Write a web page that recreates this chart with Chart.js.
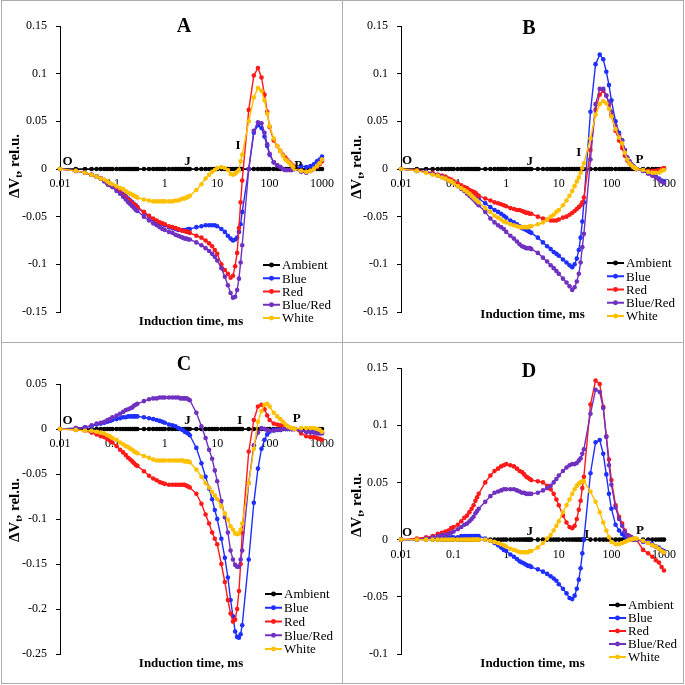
<!DOCTYPE html>
<html>
<head>
<meta charset="utf-8">
<script src="https://cdn.jsdelivr.net/npm/chart.js@4.4.0/dist/chart.umd.min.js"></script>
<style>
  body { margin: 0; background: #fff; }
  #wrap { position: relative; width: 685px; height: 685px; }
  canvas { position: absolute; }
  .ln { position: absolute; background: #acacac; }
</style>
</head>
<body>
<div id="wrap">
  <canvas id="cA" width="342" height="342" style="left:0;top:0"></canvas>
  <canvas id="cB" width="342" height="342" style="left:342px;top:0"></canvas>
  <canvas id="cC" width="342" height="342" style="left:0;top:342px"></canvas>
  <canvas id="cD" width="342" height="342" style="left:342px;top:342px"></canvas>
  <div class="ln" style="left:1px;top:0;width:1px;height:684px"></div>
  <div class="ln" style="left:342px;top:0;width:1px;height:684px"></div>
  <div class="ln" style="left:683px;top:0;width:1px;height:684px"></div>
  <div class="ln" style="left:1px;top:0;width:683px;height:1px"></div>
  <div class="ln" style="left:1px;top:342px;width:683px;height:1px"></div>
  <div class="ln" style="left:1px;top:683px;width:683px;height:1px"></div>
</div>
<script>
// Induction time (ms), shared by all panels (one line per sampling segment)
const times = [
  0.01, 0.02, 0.03, 0.04, 0.05, 0.06, 0.07, 0.08, 0.09,
  0.1, 0.12, 0.14, 0.16, 0.18, 0.2, 0.22, 0.24, 0.26, 0.28, 0.3,
  0.4, 0.5, 0.6, 0.7, 0.8, 0.9,
  1, 1.2, 1.4, 1.6, 1.8, 2, 2.2, 2.4, 2.6, 2.8, 3,
  4, 5, 6, 7, 8, 9,
  10, 12, 14, 16, 18, 20, 22, 24, 26, 28, 30,
  40, 50, 60, 70, 80, 90,
  100, 120, 140, 160, 180, 200, 220, 240, 260, 280, 300,
  400, 500, 600, 700, 800, 900, 1000
];

const seriesNames = ['Ambient', 'Blue', 'Red', 'Blue/Red', 'White'];
const seriesColors = ['#000000', '#1f2fff', '#ff1a1a', '#7030c0', '#ffc000'];
const stepNames = ['O', 'J', 'I', 'P'];
const xTicks = [0.01, 0.1, 1, 10, 100, 1000];

const ambient = [
  0, 0, 0, 0, 0, 0, 0, 0, 0,
  0, 0, 0, 0, 0, 0, 0, 0, 0, 0, 0,
  0, 0, 0, 0, 0, 0,
  0, 0, 0, 0, 0, 0, 0, 0, 0, 0, 0,
  0, 0, 0, 0, 0, 0,
  0, 0, 0, 0, 0, 0, 0, 0, 0, 0, 0,
  0, 0, 0, 0, 0, 0,
  0, 0, 0, 0, 0, 0, 0, 0, 0, 0, 0,
  0, 0, 0, 0, 0, 0, 0
];

// Panel A
const yTicksA = [-0.15, -0.1, -0.05, 0, 0.05, 0.1, 0.15];
const blueA = [
  0, -0.002, -0.004, -0.006, -0.008, -0.010, -0.012, -0.014, -0.016,
  -0.018, -0.021, -0.023, -0.026, -0.028, -0.031, -0.033, -0.035, -0.037, -0.038, -0.040,
  -0.046, -0.050, -0.053, -0.055, -0.057, -0.058,
  -0.059, -0.061, -0.062, -0.063, -0.064, -0.064, -0.064, -0.064, -0.064, -0.063, -0.063,
  -0.061, -0.060, -0.059, -0.059, -0.059, -0.059,
  -0.060, -0.063, -0.066, -0.070, -0.073, -0.075, -0.074, -0.072, -0.066, -0.058, -0.045,
  0.000, 0.038, 0.046, 0.043, 0.034, 0.024,
  0.015, 0.007, 0.004, 0.002, 0.000, -0.001, -0.001, -0.001, -0.001, 0.000, 0.000,
  0.003, 0.002, 0.003, 0.005, 0.008, 0.010, 0.013
];
const redA = [
  0, -0.002, -0.004, -0.006, -0.008, -0.010, -0.012, -0.014, -0.016,
  -0.018, -0.021, -0.024, -0.027, -0.030, -0.032, -0.034, -0.036, -0.037, -0.039, -0.040,
  -0.045, -0.049, -0.052, -0.054, -0.056, -0.057,
  -0.058, -0.060, -0.061, -0.062, -0.063, -0.064, -0.065, -0.065, -0.066, -0.066, -0.067,
  -0.070, -0.072, -0.075, -0.078, -0.081, -0.085,
  -0.089, -0.100, -0.106, -0.110, -0.114, -0.112, -0.102, -0.088, -0.062, -0.035, -0.012,
  0.062, 0.098, 0.106, 0.096, 0.078, 0.060,
  0.044, 0.030, 0.024, 0.019, 0.015, 0.012, 0.009, 0.007, 0.005, 0.003, 0.002,
  -0.002, -0.003, -0.002, 0.000, 0.002, 0.005, 0.008
];
const blueRedA = [
  0, -0.002, -0.004, -0.006, -0.008, -0.010, -0.013, -0.015, -0.017,
  -0.019, -0.023, -0.026, -0.029, -0.032, -0.035, -0.037, -0.039, -0.041, -0.043, -0.044,
  -0.050, -0.054, -0.057, -0.059, -0.061, -0.063,
  -0.064, -0.066, -0.067, -0.069, -0.070, -0.071, -0.072, -0.073, -0.073, -0.074, -0.074,
  -0.077, -0.080, -0.083, -0.086, -0.089, -0.092,
  -0.096, -0.104, -0.113, -0.122, -0.130, -0.135, -0.134, -0.127, -0.115, -0.098, -0.080,
  0.000, 0.040, 0.049, 0.048, 0.038, 0.026,
  0.016, 0.007, 0.004, 0.002, 0.000, -0.001, -0.001, -0.001, -0.001, 0.000, 0.000,
  -0.003, -0.004, -0.002, 0.000, 0.003, 0.007, 0.010
];
const whiteA = [
  0, -0.002, -0.004, -0.006, -0.008, -0.010, -0.011, -0.013, -0.015,
  -0.016, -0.018, -0.020, -0.021, -0.023, -0.025, -0.026, -0.027, -0.028, -0.029, -0.030,
  -0.032, -0.033, -0.034, -0.034, -0.034, -0.034,
  -0.034, -0.034, -0.034, -0.033, -0.033, -0.032, -0.031, -0.031, -0.030, -0.029, -0.028,
  -0.022, -0.016, -0.010, -0.006, -0.003, -0.001,
  0.001, 0.002, 0.001, -0.001, -0.005, -0.006, -0.005, -0.003, -0.001, 0.008, 0.015,
  0.050, 0.075, 0.085, 0.082, 0.072, 0.058,
  0.045, 0.032, 0.024, 0.019, 0.014, 0.010, 0.008, 0.006, 0.004, 0.002, 0.000,
  -0.002, -0.003, -0.002, 0.000, 0.003, 0.006, 0.010
];
const marksA = [[0.014, 0.008], [2.7, 0.008], [25, 0.024], [350, 0.003]];

// Panel B
const yTicksB = [-0.15, -0.1, -0.05, 0, 0.05, 0.1, 0.15];
const blueB = [
  0, -0.002, -0.003, -0.005, -0.006, -0.008, -0.009, -0.011, -0.012,
  -0.014, -0.017, -0.019, -0.021, -0.023, -0.025, -0.026, -0.027, -0.028, -0.030, -0.031,
  -0.036, -0.040, -0.043, -0.045, -0.047, -0.049,
  -0.051, -0.054, -0.056, -0.058, -0.060, -0.062, -0.063, -0.064, -0.065, -0.066, -0.067,
  -0.072, -0.077, -0.081, -0.084, -0.087, -0.089,
  -0.091, -0.095, -0.098, -0.101, -0.103, -0.100, -0.094, -0.085, -0.072, -0.055, -0.035,
  0.060, 0.110, 0.120, 0.115, 0.102, 0.088,
  0.072, 0.050, 0.038, 0.030, 0.020, 0.012, 0.008, 0.005, 0.003, 0.001, 0.000,
  -0.002, -0.004, -0.006, -0.008, -0.010, -0.012, -0.013
];
const redB = [
  0, -0.001, -0.003, -0.004, -0.006, -0.007, -0.008, -0.010, -0.011,
  -0.013, -0.015, -0.017, -0.019, -0.020, -0.022, -0.023, -0.024, -0.025, -0.027, -0.028,
  -0.031, -0.033, -0.035, -0.036, -0.037, -0.038,
  -0.039, -0.041, -0.042, -0.043, -0.043, -0.044, -0.045, -0.046, -0.046, -0.047, -0.047,
  -0.050, -0.052, -0.053, -0.054, -0.054, -0.054,
  -0.053, -0.051, -0.050, -0.048, -0.046, -0.044, -0.042, -0.040, -0.038, -0.035, -0.030,
  0.020, 0.062, 0.078, 0.082, 0.077, 0.068,
  0.057, 0.040, 0.030, 0.022, 0.014, 0.009, 0.006, 0.004, 0.002, 0.001, 0.000,
  -0.001, -0.002, -0.002, -0.002, -0.001, 0.000, 0.001
];
const blueRedB = [
  0, -0.002, -0.003, -0.005, -0.007, -0.008, -0.010, -0.012, -0.013,
  -0.015, -0.018, -0.021, -0.023, -0.026, -0.028, -0.030, -0.032, -0.034, -0.036, -0.038,
  -0.045, -0.052, -0.056, -0.059, -0.061, -0.063,
  -0.066, -0.070, -0.073, -0.076, -0.079, -0.081, -0.082, -0.083, -0.083, -0.083, -0.084,
  -0.088, -0.093, -0.097, -0.101, -0.104, -0.107,
  -0.110, -0.115, -0.119, -0.123, -0.127, -0.124, -0.118, -0.110, -0.098, -0.082, -0.068,
  0.010, 0.068, 0.084, 0.084, 0.077, 0.070,
  0.060, 0.045, 0.036, 0.030, 0.020, 0.012, 0.008, 0.005, 0.003, 0.001, 0.000,
  -0.002, -0.005, -0.007, -0.009, -0.011, -0.013, -0.015
];
const whiteB = [
  0, -0.002, -0.004, -0.006, -0.007, -0.009, -0.010, -0.012, -0.013,
  -0.015, -0.018, -0.020, -0.022, -0.024, -0.026, -0.028, -0.030, -0.032, -0.033, -0.035,
  -0.041, -0.045, -0.049, -0.051, -0.053, -0.055,
  -0.056, -0.058, -0.059, -0.060, -0.061, -0.061, -0.061, -0.061, -0.061, -0.060, -0.060,
  -0.058, -0.056, -0.053, -0.050, -0.048, -0.045,
  -0.043, -0.038, -0.033, -0.028, -0.023, -0.018, -0.013, -0.009, -0.004, 0.001, 0.006,
  0.032, 0.057, 0.068, 0.071, 0.069, 0.063,
  0.055, 0.042, 0.033, 0.027, 0.017, 0.010, 0.006, 0.004, 0.002, 0.001, 0.000,
  -0.001, -0.003, -0.004, -0.004, -0.004, -0.002, -0.001
];
const marksB = [[0.013, 0.009], [2.8, 0.008], [24, 0.017], [340, 0.010]];

// Panel C
const yTicksC = [-0.25, -0.2, -0.15, -0.1, -0.05, 0, 0.05];
const blueC = [
  0, 0.001, 0.002, 0.003, 0.005, 0.006, 0.007, 0.008, 0.009,
  0.010, 0.011, 0.012, 0.013, 0.013, 0.014, 0.014, 0.014, 0.014, 0.014, 0.014,
  0.013, 0.012, 0.011, 0.010, 0.009, 0.008,
  0.007, 0.005, 0.004, 0.003, 0.001, 0.000, -0.001, -0.003, -0.004, -0.005, -0.007,
  -0.021, -0.038, -0.053, -0.066, -0.078, -0.090,
  -0.100, -0.122, -0.143, -0.165, -0.190, -0.208, -0.225, -0.231, -0.232, -0.228, -0.218,
  -0.145, -0.082, -0.044, -0.022, -0.012, -0.006,
  -0.003, -0.001, -0.001, -0.001, 0.000, 0.000, 0.000, 0.000, 0.000, 0.000, 0.000,
  -0.002, -0.003, -0.003, -0.003, -0.003, -0.004, -0.004
];
const redC = [
  0, -0.001, -0.002, -0.004, -0.006, -0.008, -0.009, -0.011, -0.013,
  -0.015, -0.019, -0.023, -0.026, -0.029, -0.032, -0.034, -0.036, -0.038, -0.040, -0.041,
  -0.047, -0.052, -0.055, -0.057, -0.059, -0.060,
  -0.061, -0.062, -0.062, -0.062, -0.062, -0.062, -0.062, -0.062, -0.063, -0.064, -0.065,
  -0.072, -0.083, -0.095, -0.105, -0.115, -0.122,
  -0.128, -0.150, -0.170, -0.190, -0.205, -0.214, -0.212, -0.200, -0.180, -0.150, -0.115,
  -0.025, 0.010, 0.025, 0.027, 0.022, 0.015,
  0.010, 0.006, 0.005, 0.004, 0.003, 0.002, 0.001, 0.001, 0.000, 0.000, 0.000,
  -0.005, -0.008, -0.009, -0.009, -0.010, -0.011, -0.012
];
const blueRedC = [
  0, 0.001, 0.002, 0.004, 0.006, 0.007, 0.008, 0.010, 0.011,
  0.013, 0.015, 0.017, 0.019, 0.021, 0.022, 0.023, 0.024, 0.026, 0.027, 0.028,
  0.031, 0.033, 0.034, 0.034, 0.035, 0.035,
  0.035, 0.035, 0.035, 0.035, 0.035, 0.034, 0.034, 0.034, 0.034, 0.033, 0.032,
  0.018, 0.003, -0.010, -0.023, -0.033, -0.046,
  -0.058, -0.080, -0.098, -0.115, -0.135, -0.145, -0.151, -0.153, -0.153, -0.145, -0.135,
  -0.060, -0.018, -0.004, 0.001, 0.000, -0.001,
  -0.002, -0.002, -0.001, -0.001, 0.000, 0.000, 0.000, 0.000, 0.000, 0.000, 0.000,
  -0.002, -0.003, -0.004, -0.004, -0.005, -0.005, -0.005
];
const whiteC = [
  0, -0.001, -0.002, -0.002, -0.003, -0.004, -0.005, -0.007, -0.008,
  -0.010, -0.012, -0.015, -0.017, -0.019, -0.020, -0.022, -0.023, -0.025, -0.026, -0.027,
  -0.030, -0.032, -0.034, -0.035, -0.035, -0.035,
  -0.035, -0.035, -0.035, -0.035, -0.035, -0.035, -0.035, -0.036, -0.036, -0.036, -0.037,
  -0.045, -0.053, -0.060, -0.065, -0.070, -0.074,
  -0.078, -0.086, -0.094, -0.101, -0.108, -0.112, -0.116, -0.117, -0.116, -0.112, -0.105,
  -0.060, -0.022, 0.008, 0.020, 0.027, 0.028,
  0.025, 0.018, 0.014, 0.011, 0.008, 0.005, 0.003, 0.002, 0.001, 0.001, 0.000,
  0.001, 0.001, 0.001, 0.001, 0.000, -0.001, -0.003
];
const marksC = [[0.014, 0.009], [2.7, 0.009], [27, 0.009], [330, 0.012]];

// Panel D
const yTicksD = [-0.1, -0.05, 0, 0.05, 0.1, 0.15];
const blueD = [
  0, 0.000, 0.001, 0.001, 0.001, 0.002, 0.002, 0.002, 0.002,
  0.002, 0.002, 0.003, 0.003, 0.003, 0.003, 0.003, 0.003, 0.003, 0.003, 0.003,
  0.001, -0.001, -0.003, -0.005, -0.007, -0.009,
  -0.010, -0.013, -0.015, -0.017, -0.019, -0.020, -0.021, -0.022, -0.023, -0.023, -0.024,
  -0.026, -0.028, -0.030, -0.032, -0.034, -0.036,
  -0.039, -0.043, -0.047, -0.051, -0.052, -0.049, -0.043, -0.035, -0.025, -0.012, 0.000,
  0.058, 0.085, 0.087, 0.075, 0.057, 0.040,
  0.027, 0.013, 0.008, 0.005, 0.003, 0.001, 0.000, 0.000, 0.000, 0.000, 0.000,
  -0.001, -0.002, -0.004, -0.006, -0.007, -0.009, -0.010
];
const redD = [
  0, 0.001, 0.002, 0.003, 0.005, 0.006, 0.007, 0.008, 0.010,
  0.011, 0.013, 0.016, 0.019, 0.021, 0.024, 0.027, 0.030, 0.034, 0.037, 0.040,
  0.050, 0.056, 0.060, 0.062, 0.064, 0.065,
  0.066, 0.065, 0.064, 0.062, 0.060, 0.059, 0.057, 0.055, 0.054, 0.053, 0.052,
  0.051, 0.050, 0.047, 0.044, 0.040, 0.035,
  0.030, 0.021, 0.015, 0.011, 0.010, 0.012, 0.018, 0.026, 0.034, 0.045, 0.055,
  0.118, 0.139, 0.136, 0.116, 0.090, 0.070,
  0.052, 0.030, 0.020, 0.014, 0.008, 0.004, 0.003, 0.002, 0.001, 0.000, 0.000,
  -0.009, -0.012, -0.015, -0.018, -0.020, -0.024, -0.027
];
const blueRedD = [
  0, 0.000, 0.001, 0.002, 0.003, 0.004, 0.004, 0.005, 0.006,
  0.007, 0.009, 0.011, 0.013, 0.014, 0.016, 0.018, 0.020, 0.023, 0.025, 0.027,
  0.033, 0.038, 0.041, 0.042, 0.043, 0.044,
  0.044, 0.044, 0.044, 0.043, 0.042, 0.041, 0.041, 0.040, 0.040, 0.040, 0.040,
  0.041, 0.043, 0.045, 0.047, 0.050, 0.053,
  0.056, 0.060, 0.063, 0.065, 0.066, 0.066, 0.067, 0.069, 0.071, 0.075, 0.079,
  0.110, 0.131, 0.129, 0.115, 0.090, 0.065,
  0.048, 0.028, 0.018, 0.012, 0.007, 0.004, 0.003, 0.002, 0.001, 0.000, 0.000,
  -0.002, -0.003, -0.005, -0.006, -0.008, -0.010, -0.011
];
const whiteD = [
  0, 0.000, 0.000, 0.000, 0.000, 0.000, 0.000, 0.000, 0.000,
  0.000, 0.000, 0.000, 0.000, 0.000, 0.000, 0.000, 0.000, 0.000, 0.000, 0.000,
  0.000, -0.001, -0.002, -0.003, -0.004, -0.005,
  -0.006, -0.008, -0.009, -0.010, -0.011, -0.011, -0.011, -0.011, -0.011, -0.010, -0.010,
  -0.007, -0.003, 0.001, 0.004, 0.008, 0.012,
  0.016, 0.024, 0.030, 0.035, 0.040, 0.044, 0.047, 0.049, 0.050, 0.051, 0.051,
  0.042, 0.033, 0.024, 0.015, 0.008, 0.002,
  -0.002, -0.004, -0.004, -0.003, -0.002, -0.001, 0.000, 0.000, 0.001, 0.001, 0.001,
  -0.001, -0.003, -0.005, -0.006, -0.008, -0.010, -0.011
];
const marksD = [[0.013, 0.006], [2.8, 0.007], [34, 0.004], [350, 0.008]];

const serif = "'Liberation Serif', 'Times New Roman', serif";
Chart.defaults.font.family = serif;

// Layout of each panel: plot area [left, right, top, bottom], text anchors, legend [x, y, row]
const panels = [
  { id: 'cA', letter: 'A', yTicks: yTicksA, series: [ambient, blueA, redA, blueRedA, whiteA], marks: marksA,
    area: [60, 323, 26, 312], letterXY: [184, 27], xTitleY: 322, yTitleY: 166, legend: [263, 265, 13.25] },
  { id: 'cB', letter: 'B', yTicks: yTicksB, series: [ambient, blueB, redB, blueRedB, whiteB], marks: marksB,
    area: [59, 322, 26, 312], letterXY: [187, 29], xTitleY: 315, yTitleY: 167, legend: [265, 263, 13.25] },
  { id: 'cC', letter: 'C', yTicks: yTicksC, series: [ambient, blueC, redC, blueRedC, whiteC], marks: marksC,
    area: [60, 323, 42, 312], letterXY: [184, 23], xTitleY: 322, yTitleY: 168, legend: [265, 252, 13.75] },
  { id: 'cD', letter: 'D', yTicks: yTicksD, series: [ambient, blueD, redD, blueRedD, whiteD], marks: marksD,
    area: [59, 322, 26, 312], letterXY: [187, 30], xTitleY: 322, yTitleY: 163, legend: [267, 263, 13] }
];

function textPlugin(p) {
  return {
    id: 'panelText',
    afterDraw(chart) {
      const c = chart.ctx;
      const xs = chart.scales.x, ys = chart.scales.y;
      const ca = chart.chartArea;
      c.save();
      c.fillStyle = '#000';
      c.textAlign = 'center';
      c.textBaseline = 'middle';

      c.font = 'bold 20px ' + serif;
      c.fillText(p.letter, p.letterXY[0], p.letterXY[1]);

      c.font = 'bold 13px ' + serif;
      c.fillText('Induction time, ms', (ca.left + ca.right) / 2, p.xTitleY);
      p.marks.forEach((m, i) => {
        c.fillText(stepNames[i], xs.getPixelForValue(m[0]), ys.getPixelForValue(m[1]));
      });

      // legend
      const [lx, ly, row] = p.legend;
      chart.data.datasets.forEach((ds, i) => {
        const y = ly + i * row;
        c.strokeStyle = ds.borderColor;
        c.lineWidth = 2;
        c.beginPath(); c.moveTo(lx, y); c.lineTo(lx + 17, y); c.stroke();
        c.fillStyle = ds.borderColor;
        c.beginPath(); c.arc(lx + 8.5, y, 2.4, 0, Math.PI * 2); c.fill();
        c.fillStyle = '#000';
        c.textAlign = 'left';
        c.font = '13px ' + serif;
        c.fillText(ds.label, lx + 19, y + 1);
      });

      // y title with subscript t
      c.translate(14, p.yTitleY);
      c.rotate(-Math.PI / 2);
      c.textAlign = 'left';
      c.textBaseline = 'alphabetic';
      c.font = 'bold 15px ' + serif;
      const w1 = c.measureText('\u0394V').width;
      const w3 = c.measureText(', rel.u.').width;
      c.font = 'bold 10px ' + serif;
      const w2 = c.measureText('t').width;
      const x0 = -(w1 + w2 + w3) / 2;
      c.font = 'bold 15px ' + serif;
      c.fillText('\u0394V', x0, 5);
      c.font = 'bold 10px ' + serif;
      c.fillText('t', x0 + w1, 8);
      c.font = 'bold 15px ' + serif;
      c.fillText(', rel.u.', x0 + w1 + w2, 5);
      c.restore();
    }
  };
}

panels.forEach(p => {
  const datasets = seriesNames.map((name, i) => ({
    label: name,
    data: times.map((t, k) => ({ x: t, y: p.series[i][k] })),
    borderColor: seriesColors[i],
    backgroundColor: seriesColors[i],
    pointBackgroundColor: seriesColors[i],
    borderWidth: 1.4,
    pointRadius: 2.3,
    pointBorderWidth: 0,
    order: seriesNames.length - i,
    clip: 8
  }));
  const tickFont = { family: serif, size: 12 };

  new Chart(document.getElementById(p.id), {
    type: 'line',
    data: { datasets },
    options: {
      responsive: false,
      animation: false,
      devicePixelRatio: 1,
      layout: { padding: { left: 0, right: 342 - p.area[1], top: p.area[2], bottom: 342 - p.area[3] } },
      plugins: { legend: { display: false }, tooltip: { enabled: false } },
      scales: {
        x: {
          type: 'logarithmic',
          min: 0.01,
          max: 1000,
          position: { y: 0 },
          afterBuildTicks: s => { s.ticks = xTicks.map(v => ({ value: v })); },
          ticks: { autoSkip: false, maxRotation: 0, padding: 8, color: '#000', font: tickFont,
                   callback: v => String(v) },
          grid: { display: false, drawTicks: false },
          border: { display: true, color: '#000', width: 1 }
        },
        y: {
          min: p.yTicks[0],
          max: p.yTicks[p.yTicks.length - 1],
          afterBuildTicks: s => { s.ticks = p.yTicks.map(v => ({ value: v })); },
          afterFit: s => { s.width = p.area[0]; },
          ticks: { padding: 9, color: '#000', font: tickFont, callback: v => String(v) },
          grid: { display: true, drawOnChartArea: false, drawTicks: true, tickLength: 4, color: '#000' },
          border: { display: true, color: '#000', width: 1 }
        }
      }
    },
    plugins: [textPlugin(p)]
  });
});
</script>
</body>
</html>
